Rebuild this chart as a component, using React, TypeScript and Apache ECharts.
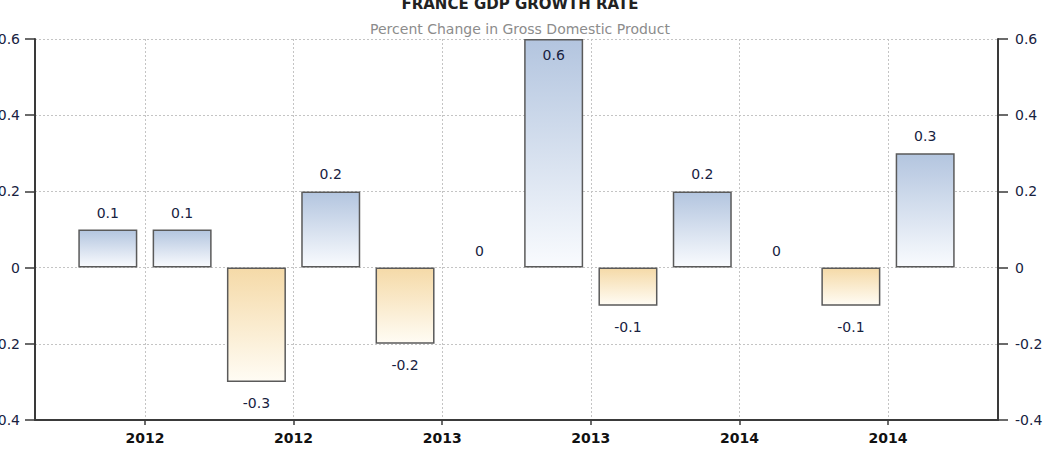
import React, { useEffect, useRef } from "react";
import * as echarts from "echarts";

// Quarterly GDP growth, percent change on previous quarter
const quarterPositions = [1, 2, 3, 4, 5, 6, 7, 8, 9, 10, 11, 12];
const growthValues = [0.1, 0.1, -0.3, 0.2, -0.2, 0, 0.6, -0.1, 0.2, 0, -0.1, 0.3];

// Year ticks sit between pairs of quarters
const yearTickPositions = [1.5, 3.5, 5.5, 7.5, 9.5, 11.5];
const yearTickLabels = ["2012", "2012", "2013", "2013", "2014", "2014"];

const Y_MIN = -0.4;
const Y_MAX = 0.6;
const Y_STEP = 0.2;

const FONT = "DejaVu Sans";
const LABEL_COLOR = "#18223f";
const GRID_LINE = { color: "#c4c4c4", type: [2, 2] as number[], width: 1 };

function barItem(pos: number, v: number) {
  const positive = v >= 0;
  const color = positive
    ? new echarts.graphic.LinearGradient(0, 0, 0, 1, [
        { offset: 0, color: "#b3c5df" },
        { offset: 1, color: "#f9fbfe" },
      ])
    : new echarts.graphic.LinearGradient(0, 0, 0, 1, [
        { offset: 0, color: "#f5daa8" },
        { offset: 1, color: "#fffcf4" },
      ]);
  let position: string = "top";
  let distance = 10;
  if (v < 0) {
    position = "bottom";
    distance = 14;
  } else if (v >= Y_MAX) {
    position = "insideTop";
    distance = 9;
  }
  return {
    value: [pos, v],
    itemStyle: {
      color,
      borderColor: "#5a5a5a",
      borderWidth: v === 0 ? 0 : 1.5,
    },
    label: { position, distance },
  };
}

export default function App() {
  const ref = useRef<HTMLDivElement>(null);

  useEffect(() => {
    if (!ref.current) return;
    const chart = echarts.init(ref.current, null, { renderer: "svg" });

    const yAxisCommon = {
      type: "value",
      min: Y_MIN,
      max: Y_MAX,
      interval: Y_STEP,
      axisLine: { show: true, lineStyle: { color: "#3a3a3a", width: 2 } },
      axisTick: { show: true, length: 10, lineStyle: { color: "#3a3a3a", width: 1.5 } },
      axisLabel: {
        color: LABEL_COLOR,
        fontFamily: FONT,
        fontSize: 14,
        margin: 15,
        formatter: (v: number) => String(Math.round(v * 10) / 10),
      },
    };

    chart.setOption({
      animation: false,
      backgroundColor: "#ffffff",
      title: [
        {
          text: "FRANCE GDP GROWTH RATE",
          left: 515,
          top: -9,
          textAlign: "center",
          textStyle: {
            fontFamily: FONT,
            fontSize: 15,
            fontWeight: "bold",
            color: "#222222",
          },
        },
        {
          text: "Percent Change in Gross Domestic Product",
          left: 515,
          top: 17,
          textAlign: "center",
          textStyle: {
            fontFamily: FONT,
            fontSize: 14,
            fontWeight: "normal",
            color: "#8c8c8c",
          },
        },
      ],
      grid: {
        left: 35,
        right: 52,
        top: 39,
        bottom: 41,
        containLabel: false,
        outerBoundsMode: "none",
      },
      xAxis: {
        type: "value",
        min: 0.02,
        max: 12.98,
        axisLine: { show: true, onZero: false, lineStyle: { color: "#3a3a3a", width: 2 } },
        axisTick: {
          show: true,
          length: 5,
          customValues: yearTickPositions,
          lineStyle: { color: "#3a3a3a", width: 1.5 },
        },
        axisLabel: {
          customValues: yearTickPositions,
          color: "#111111",
          fontFamily: FONT,
          fontSize: 14,
          fontWeight: "bold",
          margin: 11,
          formatter: (v: number) => {
            const i = yearTickPositions.indexOf(v);
            return i >= 0 ? yearTickLabels[i] : "";
          },
        },
        splitLine: { show: true, lineStyle: GRID_LINE },
      },
      yAxis: [
        {
          ...yAxisCommon,
          position: "left",
          splitLine: { show: true, lineStyle: GRID_LINE },
        },
        {
          ...yAxisCommon,
          position: "right",
          axisLabel: { ...yAxisCommon.axisLabel, margin: 17 },
          splitLine: { show: false },
        },
      ],
      series: [
        {
          type: "bar",
          barWidth: 59,
          data: quarterPositions.map((p, i) => barItem(p, growthValues[i])),
          label: {
            show: true,
            color: LABEL_COLOR,
            fontFamily: FONT,
            fontSize: 14,
            formatter: (p: any) => String(p.value[1]),
          },
        },
      ],
    });

    return () => chart.dispose();
  }, []);

  return (
    <div
      ref={ref}
      style={{ position: "fixed", left: 0, top: 0, width: 1050, height: 461 }}
    />
  );
}
